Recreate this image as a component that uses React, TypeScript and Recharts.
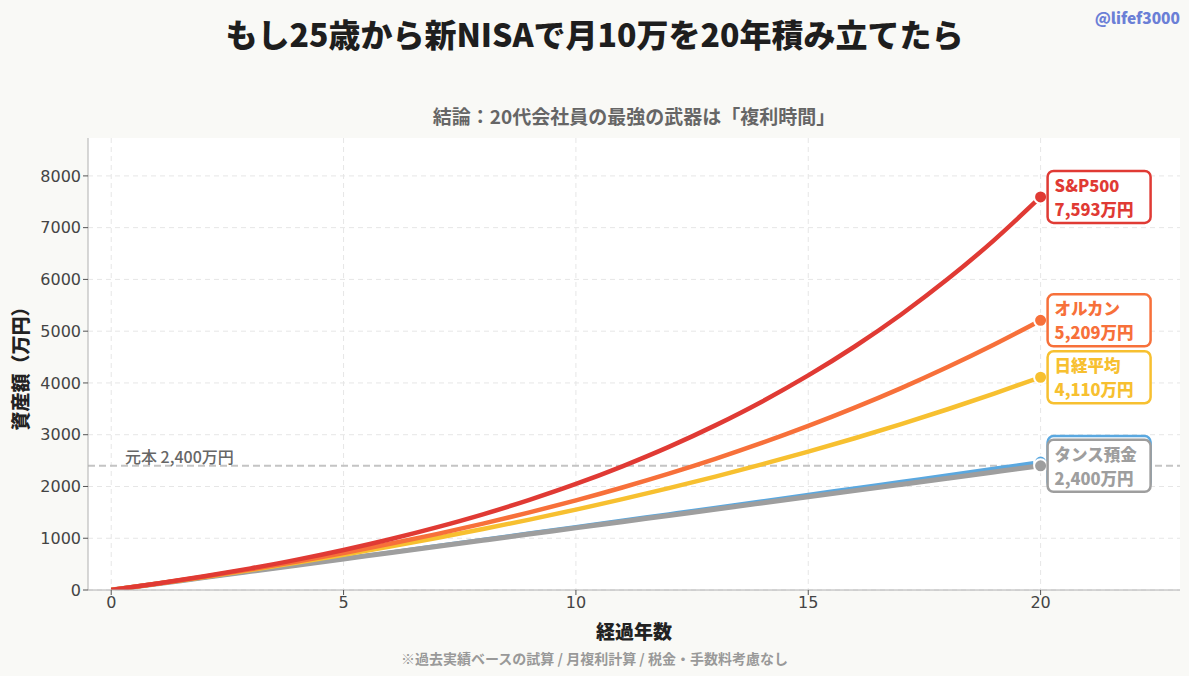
import React from "react";
import {
  LineChart,
  Line,
  XAxis,
  YAxis,
  CartesianGrid,
  ReferenceLine,
} from "recharts";

// ---- data (万円, year-end values) ----
const years = [0, 1, 2, 3, 4, 5, 6, 7, 8, 9, 10, 11, 12, 13, 14, 15, 16, 17, 18, 19, 20];
const sp500 = [0, 126, 264, 418, 587, 774, 981, 1210, 1462, 1741, 2048, 2389, 2764, 3180, 3638, 4145, 4704, 5323, 6006, 6760, 7593];
const allCountry = [0, 124, 257, 399, 552, 716, 892, 1080, 1282, 1499, 1731, 1980, 2247, 2533, 2840, 3170, 3523, 3901, 4307, 4743, 5209];
const nikkei = [0, 123, 252, 388, 530, 680, 838, 1003, 1177, 1360, 1553, 1755, 1968, 2191, 2426, 2673, 2932, 3205, 3492, 3794, 4110];
const deposit = [0, 120, 241, 362, 483, 605, 726, 849, 972, 1095, 1218, 1342, 1466, 1590, 1715, 1841, 1966, 2092, 2218, 2345, 2472];
const tansu = [0, 120, 240, 360, 480, 600, 720, 840, 960, 1080, 1200, 1320, 1440, 1560, 1680, 1800, 1920, 2040, 2160, 2280, 2400];

const xTicks = [0, 5, 10, 15, 20];
const yTicks = [0, 1000, 2000, 3000, 4000, 5000, 6000, 7000, 8000];
const principal = 2400;

const data = years.map((y, i) => ({
  year: y,
  sp500: sp500[i],
  allCountry: allCountry[i],
  nikkei: nikkei[i],
  deposit: deposit[i],
  tansu: tansu[i],
}));

const C_RED = "#e03a34";
const C_ORANGE = "#f7703a";
const C_YELLOW = "#f7c030";
const C_BLUE = "#5aa8e0";
const C_GRAY = "#9e9e9e";

const JP = "'Noto Sans CJK JP', 'Noto Sans', sans-serif";
const NUM = "'DejaVu Sans', sans-serif";

const lastIdx = years.length - 1;

function makeDot(color: string, name: string, valueText: string, showText = true) {
  return (p: any) => {
    const { cx, cy, index } = p;
    if (index !== lastIdx || cx == null || cy == null) return <g key={`d-${color}-${index}`} />;
    const bx = cx + 7;
    const bw = 103;
    const bh = 52;
    return (
      <g key={`d-${color}-${index}`}>
        <circle cx={cx} cy={cy} r={6.5} fill={color} stroke="#fff" strokeWidth={2} />
        <rect x={bx} y={cy - bh / 2} width={bw} height={bh} rx={6} ry={6} fill="#fff" stroke={color} strokeWidth={2.5} />
        {showText && (
          <text x={bx + 7} y={cy - 12} fill={color} fontFamily={JP} fontWeight={900} fontSize={16.5} dominantBaseline="central">
            {name}
          </text>
        )}
        {showText && (
          <text x={bx + 7} y={cy + 12} fill={color} fontFamily={JP} fontWeight={900} fontSize={16.5} dominantBaseline="central">
            {valueText}
          </text>
        )}
      </g>
    );
  };
}

const abs = (extra: React.CSSProperties): React.CSSProperties => ({ position: "absolute", whiteSpace: "nowrap", ...extra });

export default function App() {
  return (
    <div style={{ position: "absolute", left: 0, top: 0, width: 1189, height: 676, background: "#f9f9f6", overflow: "hidden" }}>
      <LineChart width={1189} height={676} data={data} margin={{ top: 138, right: 9, bottom: 56, left: 0 }}>
        <CartesianGrid stroke="#e6e6e6" strokeDasharray="5 4" fill="#ffffff" verticalValues={xTicks} horizontalValues={yTicks} />
        <XAxis
          dataKey="year"
          type="number"
          domain={[-0.5, 23]}
          ticks={xTicks}
          allowDataOverflow
          height={30}
          stroke="#b0b0b0"
          tickSize={5}
          tick={{ fill: "#444", fontSize: 16, fontFamily: NUM }}
          tickLine={{ stroke: "#555" }}
        />
        <YAxis
          type="number"
          domain={[0, 8732]}
          ticks={yTicks}
          allowDataOverflow
          width={88}
          stroke="#b0b0b0"
          tickSize={5}
          tick={{ fill: "#444", fontSize: 16, fontFamily: NUM }}
          tickLine={{ stroke: "#555" }}
        />
        <ReferenceLine
          y={principal}
          stroke="#c4c4c4"
          strokeWidth={2}
          strokeDasharray="7 4"
          label={(props: any) => {
            const vb = props.viewBox || {};
            return (
              <text x={(vb.x || 88) + 37} y={(vb.y || 466) - 3} fill="#666" fontFamily={JP} fontSize={16} fontWeight={500}>
                元本 2,400万円
              </text>
            );
          }}
        />
        <Line type="monotone" dataKey="deposit" stroke={C_BLUE} strokeWidth={4} isAnimationActive={false} dot={makeDot(C_BLUE, "定期預金", "2,472万円", false)} activeDot={false} />
        <Line type="monotone" dataKey="tansu" stroke={C_GRAY} strokeWidth={5} isAnimationActive={false} dot={makeDot(C_GRAY, "タンス預金", "2,400万円")} activeDot={false} />
        <Line type="monotone" dataKey="nikkei" stroke={C_YELLOW} strokeWidth={4.5} isAnimationActive={false} dot={makeDot(C_YELLOW, "日経平均", "4,110万円")} activeDot={false} />
        <Line type="monotone" dataKey="allCountry" stroke={C_ORANGE} strokeWidth={4.5} isAnimationActive={false} dot={makeDot(C_ORANGE, "オルカン", "5,209万円")} activeDot={false} />
        <Line type="monotone" dataKey="sp500" stroke={C_RED} strokeWidth={4.5} isAnimationActive={false} dot={makeDot(C_RED, "S&P500", "7,593万円")} activeDot={false} />
      </LineChart>

      <div style={abs({ left: 0, width: 1189, top: 11, textAlign: "center", fontFamily: JP, fontWeight: 900, fontSize: 32, color: "#1e1e1e", lineHeight: "44px" })}>
        もし25歳から新NISAで月10万を20年積み立てたら
      </div>
      <div style={abs({ right: 9, top: 6, fontFamily: JP, fontWeight: 900, fontSize: 15.5, color: "#6b7fd6", lineHeight: "22px" })}>
        @lifef3000
      </div>
      <div style={abs({ left: 88, width: 1092, top: 102, textAlign: "center", fontFamily: JP, fontWeight: 700, fontSize: 19, color: "#666", lineHeight: "28px" })}>
        結論：20代会社員の最強の武器は「複利時間」
      </div>
      <div style={abs({ left: 88, width: 1092, top: 617, textAlign: "center", fontFamily: JP, fontWeight: 900, fontSize: 19, color: "#222", lineHeight: "28px" })}>
        経過年数
      </div>
      <div style={abs({ left: 0, width: 1189, top: 648, textAlign: "center", fontFamily: JP, fontWeight: 700, fontSize: 14, color: "#999", lineHeight: "20px" })}>
        ※過去実績ベースの試算 / 月複利計算 / 税金・手数料考慮なし
      </div>
      <div
        style={abs({
          left: 20,
          top: 364,
          transform: "translate(-50%, -50%) rotate(-90deg)",
          fontFamily: JP,
          fontWeight: 900,
          fontSize: 19,
          color: "#222",
          lineHeight: "26px",
        })}
      >
        資産額（万円）
      </div>
    </div>
  );
}
